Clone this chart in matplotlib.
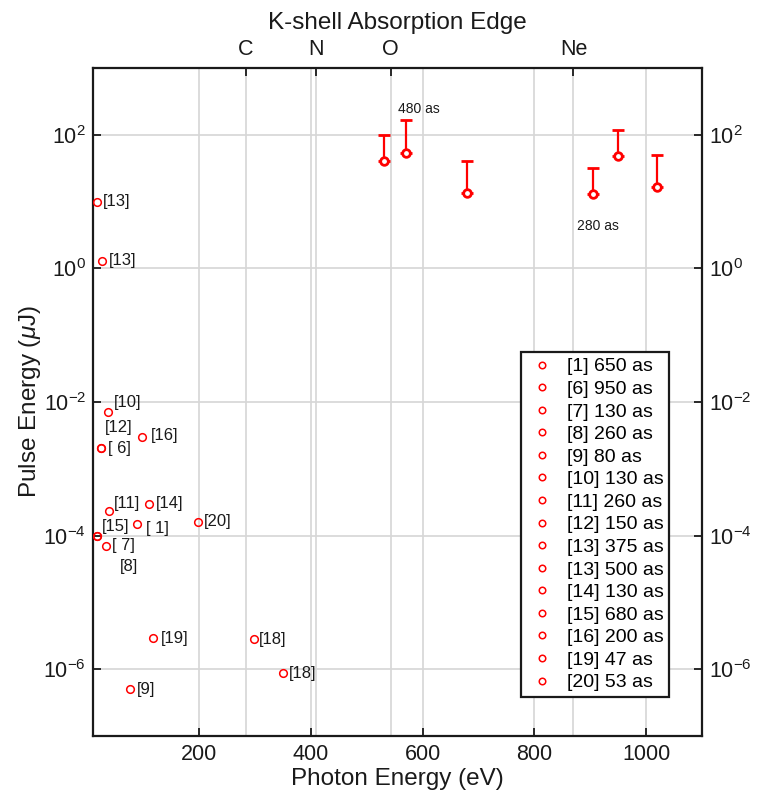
import matplotlib
matplotlib.use("Agg")
import matplotlib.pyplot as plt

plt.rcParams['font.family'] = ['Liberation Sans', 'DejaVu Sans']
plt.rcParams['mathtext.fontset'] = 'custom'
plt.rcParams['mathtext.rm'] = 'Liberation Sans'
plt.rcParams['mathtext.it'] = 'Liberation Sans:italic'
plt.rcParams['axes.unicode_minus'] = False

# Published attosecond sources: reference, pulse duration, photon energy (eV), pulse energy (uJ)
legend_refs = ['[1]', '[6]', '[7]', '[8]', '[9]', '[10]', '[11]', '[12]',
               '[13]', '[13]', '[14]', '[15]', '[16]', '[19]', '[20]']
legend_durations = ['650 as', '950 as', '130 as', '260 as', '80 as', '130 as', '260 as',
                    '150 as', '375 as', '500 as', '130 as', '680 as', '200 as', '47 as', '53 as']
source_ev = [88, 25, 33, 17, 77, 36, 38, 25, 17, 27, 111, 17, 98, 118, 198]
source_uj = [1.5e-4, 2.05e-3, 7.0e-5, 1.0e-4, 5.0e-7, 7.0e-3, 2.3e-4, 2.05e-3,
             10.0, 1.3, 3.0e-4, 1.0e-4, 3.0e-3, 2.9e-6, 1.6e-4]
point_labels = ['[ 1]', '[ 6]', '[ 7]', '[8]', '[9]', '[10]', '[11]', '[12]',
                '[13]', '[13]', '[14]', '[15]', '[16]', '[19]', '[20]']

# Additional source [18] shown without a legend entry
extra_ev = [298, 350]
extra_uj = [2.8e-6, 8.7e-7]
extra_labels = ['[18]', '[18]']

# This work: photon energy (eV), pulse energy (uJ) and upper uncertainty
xfel_ev = [530, 570, 680, 905, 950, 1020]
xfel_uj = [40, 54, 13.4, 13.1, 48, 16.7]
xfel_upper = [100, 165, 40, 32, 118, 49]

# K-shell absorption edges (eV)
edge_names = ['C', 'N', 'O', 'Ne']
edge_ev = [284, 410, 543, 870]

x_ticks = [200, 400, 600, 800, 1000]
y_ticks = [1e-6, 1e-4, 1e-2, 1e0, 1e2]

# label offsets in pixels (dx right, dy up) relative to each point
label_offsets = [(9.5, -4.5), (7, -1), (6, 0), (22.5, -30.5), (6.3, 0), (6, 10), (5, 8),
                 (3, 20), (5.6, 0), (6, 0), (6.6, 0), (5.4, 9), (9, 1), (7.3, 0), (6, 0)]
extra_offsets = [(5.3, 0), (6, 0)]

fig = plt.figure(figsize=(7.57, 7.97), dpi=100)
ax = fig.add_axes([93 / 757, 61 / 797, 609 / 757, 668 / 797])
ax.set_yscale('log')
ax.set_xlim(10, 1100)
ax.set_ylim(1e-7, 1e3)

grid_kw = dict(color='#d6d6d6', linewidth=1.2, zorder=0)
for v in x_ticks + edge_ev:
    ax.axvline(v, **grid_kw)
for v in y_ticks:
    ax.axhline(v, **grid_kw)

for i in range(len(legend_refs)):
    ax.plot([source_ev[i]], [source_uj[i]], linestyle='none', marker='o',
            markersize=5.5, markerfacecolor='none', markeredgecolor='red',
            markeredgewidth=1.1, zorder=3,
            label=f'{legend_refs[i]} {legend_durations[i]}')
ax.plot(extra_ev, extra_uj, linestyle='none', marker='o', markersize=5.5,
        markerfacecolor='none', markeredgecolor='red', markeredgewidth=1.1,
        zorder=3, label='_nolegend_')

for x, y, t, (dx, dy) in zip(source_ev, source_uj, point_labels, label_offsets):
    ax.annotate(t, (x, y), xytext=(dx, dy), textcoords='offset pixels',
                ha='left', va='center', fontsize=12, color='#1a1a1a', zorder=4)
for x, y, t, (dx, dy) in zip(extra_ev, extra_uj, extra_labels, extra_offsets):
    ax.annotate(t, (x, y), xytext=(dx, dy), textcoords='offset pixels',
                ha='left', va='center', fontsize=12, color='#1a1a1a', zorder=4)

yerr_low = [0 for _ in xfel_uj]
yerr_up = [u - v for u, v in zip(xfel_upper, xfel_uj)]
ax.errorbar(xfel_ev, xfel_uj, yerr=[yerr_low, yerr_up], fmt='o', color='red',
            ecolor='red', elinewidth=1.6, capsize=4.5, capthick=1.6,
            markersize=5.5, markerfacecolor='white', markeredgewidth=2.0,
            zorder=5, label='_nolegend_')

ax.text(556, 245, '480 as', fontsize=10, ha='left', va='center', color='#1a1a1a')
ax.text(877, 4.3, '280 as', fontsize=10, ha='left', va='center', color='#1a1a1a')

ax.set_xticks(x_ticks)
ax.set_yticks(y_ticks)
ax.minorticks_off()
ax.tick_params(axis='both', which='major', direction='in', length=6, width=1.3,
               labelsize=15.5, colors='#1a1a1a', pad=6)
ax.tick_params(axis='y', right=True, labelright=True, pad=5)
ax.tick_params(axis='x', top=False)
for s in ax.spines.values():
    s.set_linewidth(1.6)
    s.set_color('#1a1a1a')

ax.set_xlabel('Photon Energy (eV)', fontsize=17.5, color='#1a1a1a', labelpad=2)
ax.set_ylabel('Pulse Energy ($\\mu$J)', fontsize=17.5, color='#1a1a1a')
ax.yaxis.set_label_coords(-0.082, 0.5)

top = ax.twiny()
top.set_xlim(ax.get_xlim())
top.set_xticks(edge_ev)
top.set_xticklabels(edge_names)
top.tick_params(axis='x', direction='in', length=6, width=1.3, labelsize=15.5,
                colors='#1a1a1a', pad=6)
top.set_title('K-shell Absorption Edge', fontsize=17.5, color='#1a1a1a', pad=7)
for s in top.spines.values():
    s.set_visible(False)

leg = ax.legend(loc='upper left', bbox_to_anchor=(428 / 609, 384 / 668),
                borderaxespad=0, fontsize=14, frameon=True, fancybox=False,
                edgecolor='#1a1a1a', framealpha=1, labelspacing=0.255,
                handlelength=1.6, handletextpad=0.45, borderpad=0.3,
                markerscale=0.85)
leg.get_frame().set_linewidth(1.6)
leg.set_zorder(6)

fig.savefig('out.png', dpi=100)
